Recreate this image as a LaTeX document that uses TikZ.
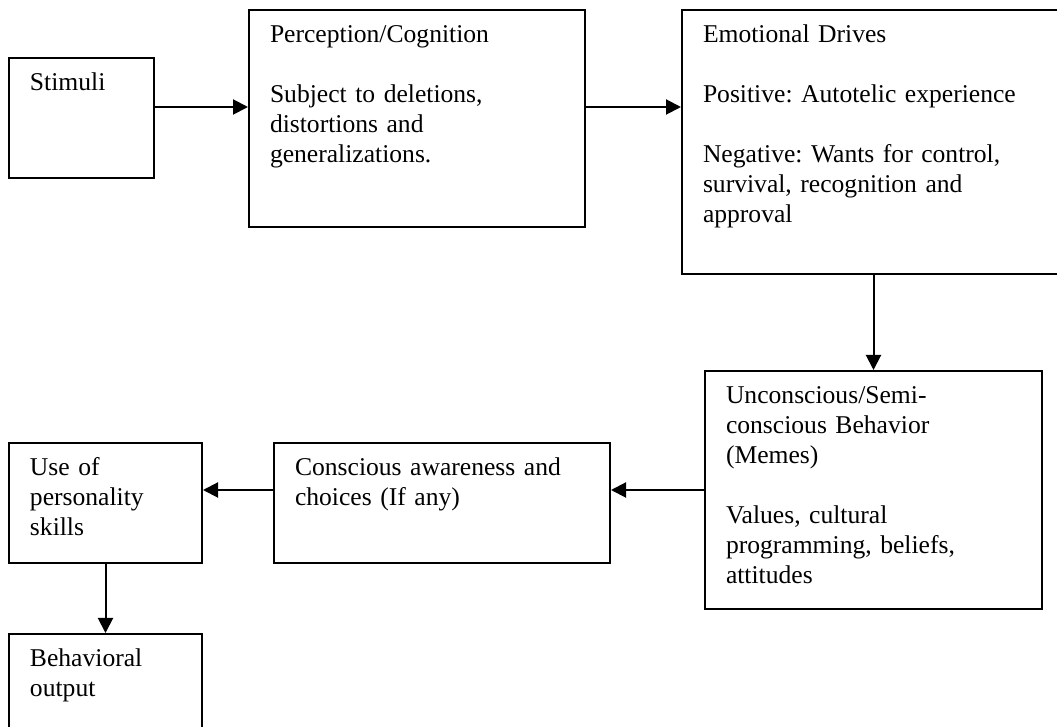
\documentclass[tikz,border=0pt]{standalone}
\usepackage{fontspec}
\setmainfont{Liberation Serif}
\usetikzlibrary{arrows.meta}

\tikzset{
    box/.style={draw, line width=1pt, anchor=north west, align=left,
        inner xsep=10.5pt, inner ysep=0pt, text height=16.5pt,
        font=\fontsize{12.8}{15}\selectfont\frenchspacing},
    arr/.style={line width=1pt, -{Triangle[length=7.5pt,width=7.5pt]}}
}

\begin{document}
\begin{tikzpicture}[x=0.5pt, y=-0.5pt]
        \useasboundingbox (0,0) rectangle (1057,727);
        \clip (0,0) rectangle (1057,727);

        % top row
        \node[box, text width=51.5pt, text depth=43.5pt] (stim) at (8,57) {Stimuli};
        \node[box, text width=147pt, text depth=92pt] (perc) at (248,9)
            {Perception/Cognition\\[15pt]Subject to deletions,\\distortions and\\generalizations.};
        \node[box, text width=178pt, text depth=115.5pt] (emo) at (681,9)
            {Emotional Drives\\[15pt]Positive: Autotelic experience\\[15pt]Negative: Wants for control,\\survival, recognition and\\approval};

        % middle row
        \node[box, text width=147.5pt, text depth=102.5pt] (unc) at (704,370)
            {Unconscious/Semi-\\conscious Behavior\\(Memes)\\[15pt]Values, cultural\\programming, beliefs,\\attitudes};
        \node[box, text width=147pt, text depth=43.5pt] (consc) at (273,442)
            {Conscious awareness and\\choices (If any)};
        \node[box, text width=75.5pt, text depth=43.5pt] (use) at (8,442)
            {Use of\\personality\\skills};

        % bottom
        \node[box, text width=75.5pt, text depth=47pt] (behav) at (8,633)
            {Behavioral\\output};

        % arrows
        \draw[arr] ([yshift=5.5pt]stim.east) -- ([yshift=5.5pt]stim.east -| perc.west);
        \draw[arr] ([yshift=5.75pt]perc.east) -- ([yshift=5.75pt]perc.east -| emo.west);
        \draw[arr] (emo.south -| unc.north) -- (unc.north);
        \draw[arr] ([yshift=6.5pt]consc.east -| unc.west) -- ([yshift=6.5pt]consc.east);
        \draw[arr] ([yshift=6.5pt]consc.west) -- ([yshift=6.5pt]use.east);
        \draw[arr] (use.south) -- (behav.north);
    \end{tikzpicture}
\end{document}
